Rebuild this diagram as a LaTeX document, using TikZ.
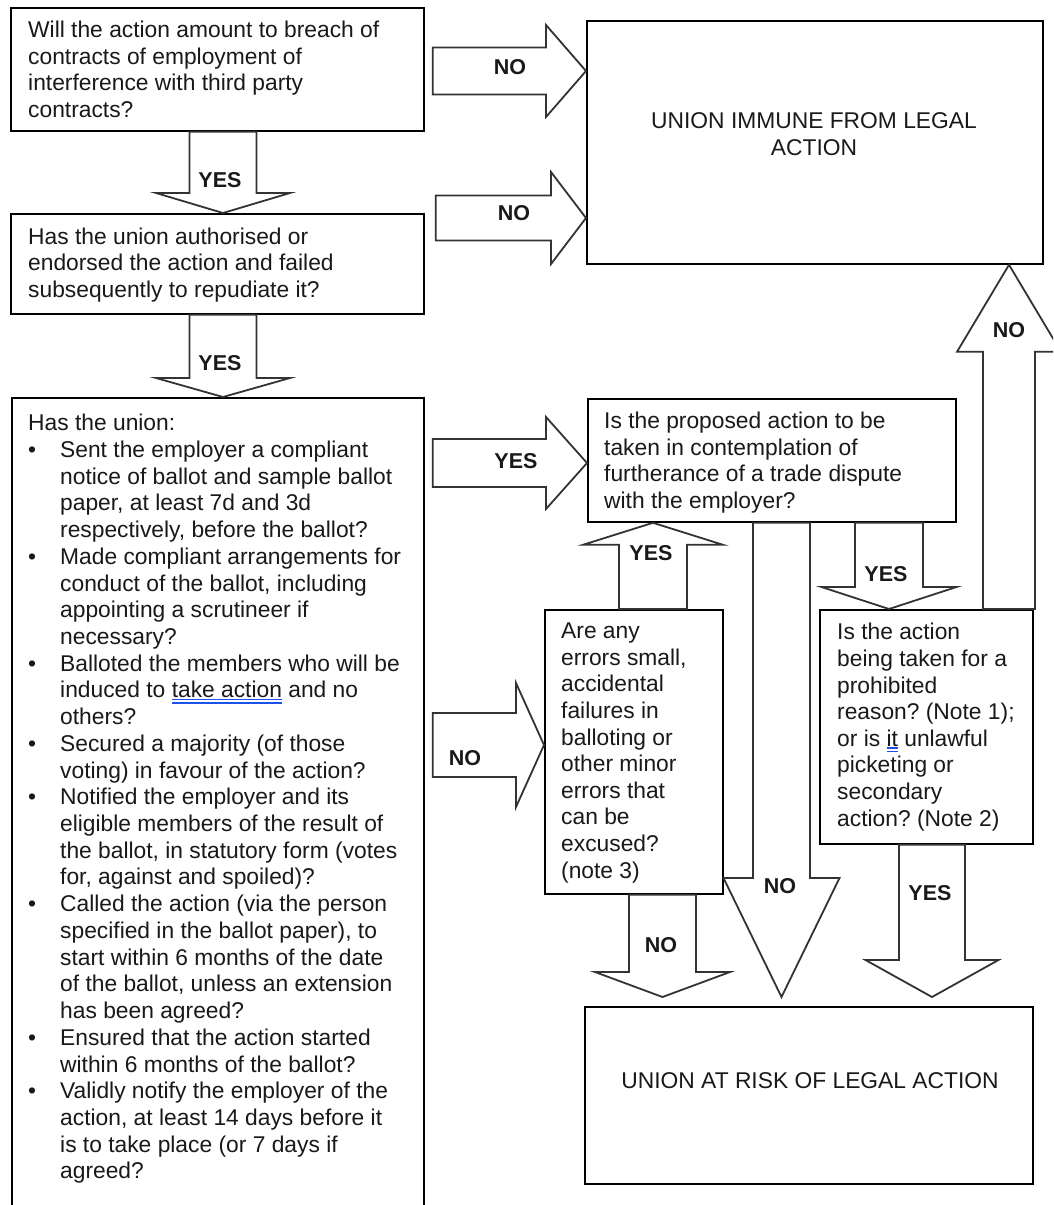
\documentclass[tikz,border=0pt]{standalone}
\usepackage{fontspec}
\setmainfont{Liberation Sans}
\usetikzlibrary{calc}
\definecolor{ulblue}{RGB}{30,80,235}
\newcommand\wordul[1]{\setbox0\hbox{#1}\rlap{\textcolor{ulblue}{\rule[-2.4pt]{\wd0}{1.3pt}}}\rlap{\textcolor{ulblue}{\rule[-5.8pt]{\wd0}{1.3pt}}}\box0\relax}
\newcommand\bul{\makebox[32pt][l]{\textbullet}}
\newcommand\ind{\hspace*{32pt}}
% horizontal block arrow (pointing right): tail, tip, head length, shaft half width, head half width
\newcommand\harrow[5]{%
  \draw[blk] let \p1=#1, \p2=#2 in
    (\x1,\y2+#4pt) -- (\x2-#3pt,\y2+#4pt) -- (\x2-#3pt,\y2+#5pt) -- (\p2)
    -- (\x2-#3pt,\y2-#5pt) -- (\x2-#3pt,\y2-#4pt) -- (\x1,\y2-#4pt) -- cycle;}
% vertical block arrow (up or down): tail, tip, head length, shaft half width, head half width
\newcommand\varrow[5]{%
  \draw[blk] let \p1=#1, \p2=#2, \n1={sign(\y1-(\y2))} in
    (\x2-#4pt,\y1) -- (\x2-#4pt,\y2+\n1*#3pt) -- (\x2-#5pt,\y2+\n1*#3pt) -- (\p2)
    -- (\x2+#5pt,\y2+\n1*#3pt) -- (\x2+#4pt,\y2+\n1*#3pt) -- (\x2+#4pt,\y1) -- cycle;}
\tikzset{
  box/.style={draw=black, line width=1.8pt, fill=white, rectangle, inner sep=0pt, anchor=north west},
  qtext/.style={font=\fontsize{22.8}{26.6}\selectfont\frenchspacing, align=left, inner sep=0pt, text=black!90},
  blk/.style={draw=black!80, line width=1.8pt, fill=white, line join=miter},
  lbl/.style={font=\fontsize{21.5}{24}\selectfont\bfseries, inner sep=0pt, text=black!90},
}
\begin{document}
\begin{tikzpicture}[x=1pt,y=-1pt]
\useasboundingbox (0,0) rectangle (1053,1205);
\clip (0,0) rectangle (1053,1205);
\fill[white] (0,0) rectangle (1053,1205);

% boxes
\node[box, minimum width=413pt, minimum height=123pt] (q1) at (10,7) {};
\node[box, minimum width=413pt, minimum height=100pt] (q2) at (10,213) {};
\node[box, minimum width=412pt, minimum height=830pt] (q3) at (11,397) {};
\node[box, minimum width=456pt, minimum height=243pt] (immune) at (586,20) {};
\node[box, minimum width=368pt, minimum height=123pt] (trade) at (587,398) {};
\node[box, minimum width=178pt, minimum height=284pt] (errs) at (544,609) {};
\node[box, minimum width=213pt, minimum height=234pt] (prohib) at (819,609) {};
\node[box, minimum width=448pt, minimum height=177pt] (risk) at (584,1006) {};
\coordinate (riskin) at ([yshift=9pt]risk.north);

% block arrows
\harrow{([xshift=8pt]q1.east)}{(immune.west |- 0,71)}{40}{23.5}{46}
\harrow{([xshift=11pt]q2.east)}{(immune.west |- 0,218)}{35}{22.5}{46}
\harrow{([xshift=8pt]q3.east)}{(trade.west |- 0,463)}{41}{24}{46}
\harrow{([xshift=8pt]q3.east)}{(errs.west |- 0,745)}{28}{32}{62}
\varrow{(q1.south -| 223,0)}{(q2.north -| 223,0)}{20}{33.5}{67}
\varrow{(q2.south -| 223,0)}{(q3.north -| 223,0)}{19}{33.5}{67}
\varrow{(errs.north -| 653,0)}{(trade.south -| 653,0)}{22}{34}{70}
\varrow{(trade.south -| 781.5,0)}{(riskin -| 781.5,0)}{119}{28.5}{58}
\varrow{(trade.south -| 889,0)}{(prohib.north -| 889,0)}{22}{34}{67.5}
\varrow{(prohib.north -| 1009,0)}{(immune.south -| 1009,0)}{87}{26}{52}
\varrow{(errs.south -| 662.5,0)}{(riskin -| 662.5,0)}{25}{33.5}{67.5}
\varrow{(prohib.south -| 932,0)}{(riskin -| 932,0)}{37}{33}{66.5}

% arrow labels
\node[lbl] (n1) at (510,67) {NO};
\node[lbl] (n2) at (514,213.5) {NO};
\node[lbl] (y1) at (220,180) {YES};
\node[lbl] (y2) at (220,363) {YES};
\node[lbl] (y3) at (516,461) {YES};
\node[lbl] (n3) at (465,758) {NO};
\node[lbl] (y4) at (651,553) {YES};
\node[lbl] (y5) at (886,574) {YES};
\node[lbl] (n4) at (1009,330) {NO};
\node[lbl] (n5) at (780,886) {NO};
\node[lbl] (n6) at (661,945) {NO};
\node[lbl] (y6) at (930,893) {YES};

% texts
\node[qtext, anchor=west] (q1t) at (28,69.5) {Will the action amount to breach of\\contracts of employment of\\interference with third party\\contracts?};
\node[qtext, anchor=west] (q2t) at (28,265) {Has the union authorised or\\endorsed the action and failed\\subsequently to repudiate it?};
\node[qtext, anchor=north west, font=\fontsize{22.8}{26.72}\selectfont\frenchspacing] (q3t) at (28,414) {Has the union:\\
\bul Sent the employer a compliant\\
\ind notice of ballot and sample ballot\\
\ind paper, at least 7d and 3d\\
\ind respectively, before the ballot?\\
\bul Made compliant arrangements for\\
\ind conduct of the ballot, including\\
\ind appointing a scrutineer if\\
\ind necessary?\\
\bul Balloted the members who will be\\
\ind induced to \wordul{take action} and no\\
\ind others?\\
\bul Secured a majority (of those\\
\ind voting) in favour of the action?\\
\bul Notified the employer and its\\
\ind eligible members of the result of\\
\ind the ballot, in statutory form (votes\\
\ind for, against and spoiled)?\\
\bul Called the action (via the person\\
\ind specified in the ballot paper), to\\
\ind start within 6 months of the date\\
\ind of the ballot, unless an extension\\
\ind has been agreed?\\
\bul Ensured that the action started\\
\ind within 6 months of the ballot?\\
\bul Validly notify the employer of the\\
\ind action, at least 14 days before it\\
\ind is to take place (or 7 days if\\
\ind agreed?};
\node[qtext, anchor=west] (tradet) at (604,462.5) {Is the proposed action to be\\taken in contemplation of\\furtherance of a trade dispute\\with the employer?};
\node[qtext, anchor=west] (errst) at (561,753) {Are any\\errors small,\\accidental\\failures in\\balloting or\\other minor\\errors that\\can be\\excused?\\(note 3)};
\node[qtext, anchor=west] (prohibt) at (837,727) {Is the action\\being taken for a\\prohibited\\reason? (Note 1);\\or is \wordul{it} unlawful\\picketing or\\secondary\\action? (Note 2)};
\node[qtext, align=center] (immt) at (814,134) {UNION IMMUNE FROM LEGAL\\ACTION};
\node[qtext] (riskt) at (810,1081) {UNION AT RISK OF LEGAL ACTION};
\end{tikzpicture}
\end{document}
